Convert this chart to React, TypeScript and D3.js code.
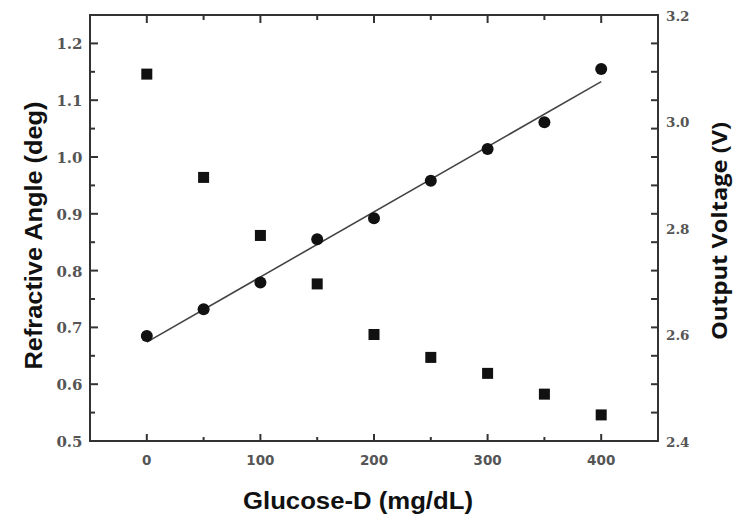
import React from "react";
import * as d3 from "d3";

const glucose = [0, 50, 100, 150, 200, 250, 300, 350, 400];
const refractiveAngle = [0.685, 0.732, 0.779, 0.855, 0.892, 0.958, 1.014, 1.061, 1.155];
const outputVoltage = [3.089, 2.895, 2.786, 2.695, 2.6, 2.557, 2.527, 2.488, 2.449];

const xMajorTicks = [0, 100, 200, 300, 400];
const xMinorTicks = [50, 150, 250, 350];
const leftMajorTicks = [0.5, 0.6, 0.7, 0.8, 0.9, 1.0, 1.1, 1.2];
const leftMinorTicks = [0.55, 0.65, 0.75, 0.85, 0.95, 1.05, 1.15];
const rightLabelTicks = [2.4, 2.6, 2.8, 3.0, 3.2];

const xTitle = "Glucose-D (mg/dL)";
const leftTitle = "Refractive Angle (deg)";
const rightTitle = "Output Voltage (V)";

const W = 750;
const H = 530;
const L = 90;
const R = 658;
const T = 15;
const B = 441;

export default function App() {
  const x = d3.scaleLinear().domain([-50, 450]).range([L, R]);
  const yL = d3.scaleLinear().domain([0.5, 1.25]).range([B, T]);
  const yR = d3.scaleLinear().domain([2.4, 3.2]).range([B, T]);

  // linear regression of refractive angle vs glucose
  const mx = d3.mean(glucose) as number;
  const my = d3.mean(refractiveAngle) as number;
  const sxy = d3.sum(glucose.map((g, i) => (g - mx) * (refractiveAngle[i] - my)));
  const sxx = d3.sum(glucose.map((g) => (g - mx) * (g - mx)));
  const slope = sxy / sxx;
  const intercept = my - slope * mx;
  const fitX = [0, 400];
  const fitLine = d3
    .line<number>()
    .x((d) => x(d))
    .y((d) => yL(intercept + slope * d));

  const axisColor = "#333";
  const labelColor = "#555";
  const allLeftTicks = [...leftMajorTicks, ...leftMinorTicks].filter((v) => v > 0.5);

  return (
    <svg
      width={W}
      height={H}
      style={{ position: "absolute", left: 0, top: 0, background: "#fff" }}
    >
      <rect x={0} y={0} width={W} height={H} fill="#fff" />

      {/* frame */}
      <rect x={L} y={T} width={R - L} height={B - T} fill="none" stroke={axisColor} strokeWidth={2} />

      {/* bottom & top ticks */}
      {xMajorTicks.map((v) => (
        <g key={"xm" + v}>
          <line x1={x(v)} x2={x(v)} y1={B} y2={B - 7} stroke={axisColor} strokeWidth={2} />
          <line x1={x(v)} x2={x(v)} y1={T} y2={T + 8} stroke={axisColor} strokeWidth={2} />
        </g>
      ))}
      {xMinorTicks.map((v) => (
        <g key={"xn" + v}>
          <line x1={x(v)} x2={x(v)} y1={B} y2={B - 4} stroke={axisColor} strokeWidth={2} />
          <line x1={x(v)} x2={x(v)} y1={T} y2={T + 5} stroke={axisColor} strokeWidth={2} />
        </g>
      ))}

      {/* left ticks */}
      {leftMajorTicks.map((v) => (
        <line key={"lm" + v} x1={L} x2={L + 8} y1={yL(v)} y2={yL(v)} stroke={axisColor} strokeWidth={2} />
      ))}
      {leftMinorTicks.map((v) => (
        <line key={"ln" + v} x1={L} x2={L + 5} y1={yL(v)} y2={yL(v)} stroke={axisColor} strokeWidth={2} />
      ))}
      {/* right ticks (mirrored) */}
      {allLeftTicks.map((v) => (
        <line key={"rt" + v} x1={R} x2={R - 7} y1={yL(v)} y2={yL(v)} stroke={axisColor} strokeWidth={2} />
      ))}

      {/* x tick labels */}
      {xMajorTicks.map((v) => (
        <text
          key={"xl" + v}
          x={x(v)}
          y={465}
          textAnchor="middle"
          fontFamily="DejaVu Sans"
          fontWeight="bold"
          fontSize={13.5}
          fill={labelColor}
        >
          {v}
        </text>
      ))}

      {/* left tick labels */}
      {leftMajorTicks.map((v) => (
        <text
          key={"ll" + v}
          x={82.5}
          y={yL(v) + 6}
          textAnchor="end"
          fontFamily="DejaVu Serif"
          fontWeight="bold"
          fontSize={15}
          fill={labelColor}
        >
          {v.toFixed(1)}
        </text>
      ))}

      {/* right tick labels */}
      {rightLabelTicks.map((v) => (
        <text
          key={"rl" + v}
          x={666}
          y={yR(v) + 5.5}
          textAnchor="start"
          fontFamily="DejaVu Serif"
          fontWeight="bold"
          fontSize={13.5}
          fill={labelColor}
        >
          {v.toFixed(1)}
        </text>
      ))}

      {/* fit line */}
      <path d={fitLine(fitX) || ""} fill="none" stroke="#444" strokeWidth={1.6} />

      {/* circles: refractive angle */}
      {glucose.map((g, i) => (
        <circle key={"c" + g} cx={x(g)} cy={yL(refractiveAngle[i])} r={6} fill="#111" />
      ))}

      {/* squares: output voltage */}
      {glucose.map((g, i) => (
        <rect
          key={"s" + g}
          x={x(g) - 5.5}
          y={yR(outputVoltage[i]) - 5.5}
          width={11}
          height={11}
          fill="#111"
        />
      ))}

      {/* titles */}
      <text
        x={243}
        y={508.5}
        fontFamily="Liberation Sans"
        fontWeight="bold"
        fontSize={23}
        textLength={230}
        lengthAdjust="spacingAndGlyphs"
        fill="#111"
      >
        {xTitle}
      </text>
      <text
        transform={`translate(42, ${235.5}) rotate(-90)`}
        textAnchor="middle"
        fontFamily="Liberation Sans"
        fontWeight="bold"
        fontSize={24}
        textLength={268}
        lengthAdjust="spacingAndGlyphs"
        fill="#111"
      >
        {leftTitle}
      </text>
      <text
        transform={`translate(727, ${231}) rotate(-90)`}
        textAnchor="middle"
        fontFamily="Open Sans"
        fontWeight="bold"
        fontSize={22}
        textLength={218}
        lengthAdjust="spacingAndGlyphs"
        fill="#111"
      >
        {rightTitle}
      </text>
    </svg>
  );
}
